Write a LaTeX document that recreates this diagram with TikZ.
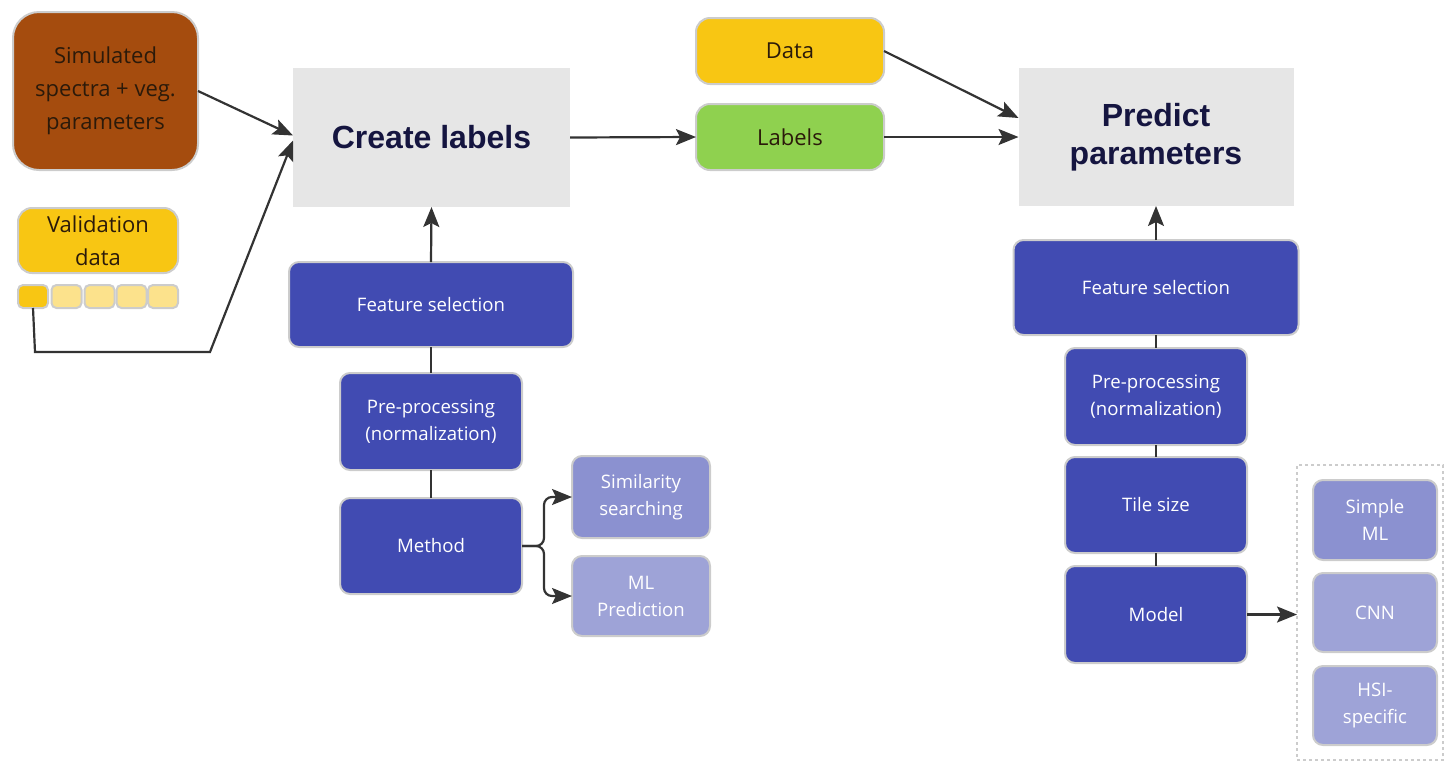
\documentclass[tikz,border=0pt]{standalone}
\usepackage{fontspec}
\setmainfont{Open Sans}
\newfontfamily\titlefont{Liberation Sans}
\usetikzlibrary{arrows.meta}
\definecolor{cbrown}{HTML}{A54C0E}
\definecolor{cyellow}{HTML}{F8C613}
\definecolor{clightyellow}{HTML}{FCE28C}
\definecolor{cgreen}{HTML}{8FD14F}
\definecolor{cblue}{HTML}{414BB2}
\definecolor{clav}{HTML}{8B91D0}
\definecolor{clavlight}{HTML}{9EA3D7}
\definecolor{cpanel}{HTML}{E6E6E6}
\definecolor{cborder}{HTML}{CCCCCC}
\definecolor{cline}{HTML}{333333}
\definecolor{ctitle}{HTML}{151540}
\definecolor{cdark}{HTML}{2B1A0A}
\tikzset{
  x=0.5pt, y=-0.5pt,
  sz/.style 2 args={minimum width=#1*0.5pt, minimum height=#2*0.5pt},
  base/.style={inner sep=0pt, outer sep=0pt, align=center},
  card/.style={base, draw=cborder, line width=1pt, rounded corners=5pt},
  bigtext/.style={font=\fontsize{11}{16.5}\selectfont, text=cdark},
  smalltext/.style={font=\fontsize{9.3}{13.5}\selectfont, text=white},
  bluebox/.style={card, fill=cblue, smalltext},
  lavbox/.style={card, fill=clav, smalltext},
  lavlightbox/.style={card, fill=clavlight, smalltext},
  panel/.style={base, fill=cpanel, text=ctitle, font=\titlefont\bfseries\fontsize{16}{19}\selectfont},
  cell/.style={base, draw=cborder, line width=1pt, rounded corners=2.5pt, sz={30}{23}},
  conn/.style={draw=cline, line width=1.1pt},
  arr/.style={conn, -{Stealth[length=10pt,width=8pt,inset=2pt]}},
}
\begin{document}
\begin{tikzpicture}
\useasboundingbox (0,0) rectangle (1446,762);

% inputs on the left
\node[card, rounded corners=13pt, fill=cbrown, bigtext, sz={185}{158}] (sim) at (105.5,91) {Simulated\\spectra + veg.\\parameters};
\node[card, rounded corners=7pt, fill=cyellow, bigtext, sz={160}{65}] (val) at (98,240.5) {Validation\\data};
\node[cell, fill=cyellow] (c1) at (33,296.5) {};
\node[cell, fill=clightyellow] (c2) at (66.5,296.5) {};
\node[cell, fill=clightyellow] (c3) at (99.5,296.5) {};
\node[cell, fill=clightyellow] (c4) at (131.5,296.5) {};
\node[cell, fill=clightyellow] (c5) at (163,296.5) {};

% label creation stage
\node[panel, sz={277}{139}] (create) at (431.5,137.5) {Create labels};
\node[bluebox, sz={284}{85}] (fsL) at (431,304.5) {Feature selection};
\node[bluebox, sz={182}{97}] (ppL) at (431,421.5) {Pre-processing\\(normalization)};
\node[bluebox, sz={182}{96}] (methL) at (431,546) {Method};
\node[lavbox, sz={138}{82}] (simS) at (641,497) {Similarity\\searching};
\node[lavlightbox, sz={138}{80}] (mlP) at (641,596) {ML\\Prediction};

% data and labels
\node[card, rounded corners=7pt, fill=cyellow, bigtext, sz={188}{66}] (data) at (790,51) {Data};
\node[card, rounded corners=7pt, fill=cgreen, bigtext, sz={188}{66}] (labels) at (790,137) {Labels};

% prediction stage
\node[panel, sz={275}{138}] (predict) at (1156,137) {Predict\\parameters};
\node[bluebox, sz={285}{95}] (fsR) at (1156,287.5) {Feature selection};
\node[bluebox, sz={182}{97}] (ppR) at (1156,396.5) {Pre-processing\\(normalization)};
\node[bluebox, sz={182}{96}] (tile) at (1156,505) {Tile size};
\node[bluebox, sz={182}{97}] (model) at (1156,614.5) {Model};

% model options
\node[base, draw=cborder, line width=0.8pt, dash pattern=on 1.5pt off 1.5pt, sz={146}{295}] (opts) at (1370,612.5) {};
\node[lavbox, sz={124}{80}] (sml) at (1375,520) {Simple\\ML};
\node[lavlightbox, sz={124}{79}] (cnn) at (1375,612.5) {CNN};
\node[lavlightbox, sz={124}{79}] (hsi) at (1375,705.5) {HSI-\\specific};

% connectors
\coordinate (vbend1) at (35,352);
\coordinate (vbend2) at (210,352);
\draw[arr] (sim.east) -- ([yshift=1pt]create.west);
\draw[arr] (c1.south) -- (vbend1) -- (vbend2) -- ([yshift=-1.5pt]create.west);
\draw[arr] (fsL.north) -- (create.south);
\draw[conn] (fsL.south) -- (ppL.north);
\draw[conn] (ppL.south) -- (methL.north);
\draw[arr, rounded corners=4pt] (methL.east) -- ++(22,0) |- (simS.west);
\draw[arr, rounded corners=4pt] (methL.east) -- ++(22,0) |- (mlP.west);
\draw[arr] (create.east) -- (labels.west);
\draw[arr] (data.east) -- ([yshift=9.5pt]predict.west);
\draw[arr] (labels.east) -- (predict.west);
\draw[arr] (fsR.north) -- (predict.south);
\draw[conn] (fsR.south) -- (ppR.north);
\draw[conn] (ppR.south) -- (tile.north);
\draw[conn] (tile.south) -- (model.north);
\draw[arr] (model.east) -- (model.east -| opts.west);
\end{tikzpicture}
\end{document}
